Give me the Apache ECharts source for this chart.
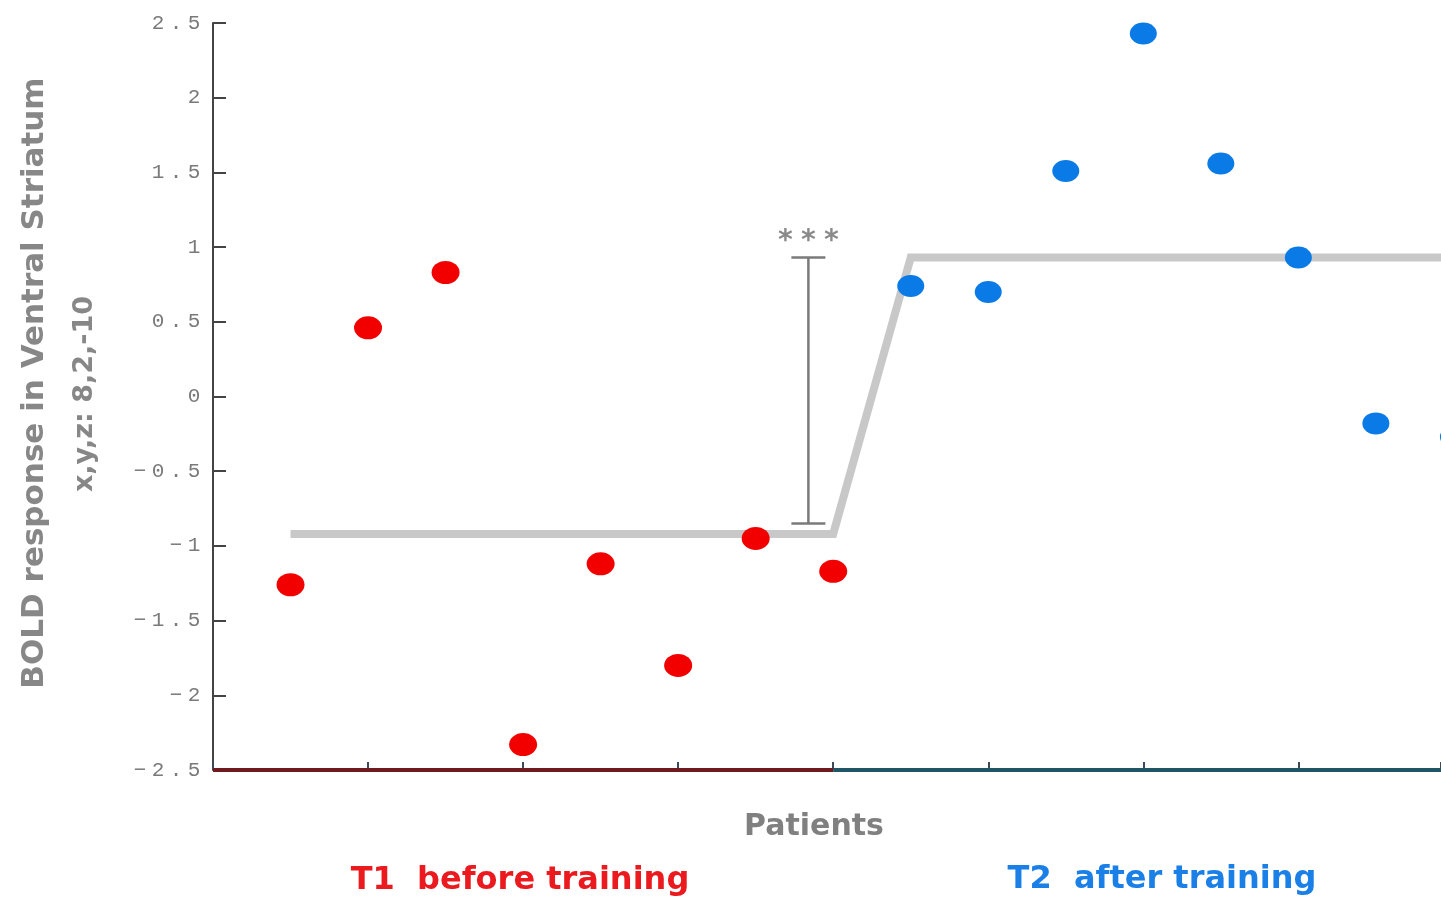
<!DOCTYPE html>
<html>
<head>
<meta charset="utf-8">
<script src="https://cdn.jsdelivr.net/npm/echarts@6/dist/echarts.min.js"></script>
<style>
  html, body { margin: 0; padding: 0; background: #fff; }
  #chart { width: 1441px; height: 900px; }
</style>
</head>
<body>
<div id="chart"></div>
<script>
// ---- data ----
var patientPositions = [0.5, 1, 1.5, 2, 2.5, 3, 3.5, 4, 4.5, 5, 5.5, 6, 6.5, 7, 7.5, 8];
var t1Values = [-1.26, 0.46, 0.83, -2.33, -1.12, -1.80, -0.95, -1.17];
var t2Values = [0.74, 0.70, 1.51, 2.43, 1.56, 0.93, -0.18, -0.27];
var meanLineX = [0.5, 4, 4.5, 8];
var meanLineY = [-0.92, -0.92, 0.93, 0.93];
var bracketX = [3.84];
var bracketLow = [-0.85];
var bracketHigh = [0.93];
var significanceLabel = '***';
var yTickValues = [-2.5, -2, -1.5, -1, -0.5, 0, 0.5, 1, 1.5, 2, 2.5];
var groupLabels = ['T1  before training', 'T2  after training'];
var groupSplit = [0, 4, 8];
var xVisibleMax = 7.92; // the reference figure is cropped just before x = 8

// ---- build ----
var t1Data = t1Values.map(function (v, i) { return [patientPositions[i], v]; });
var t2Data = t2Values.map(function (v, i) { return [patientPositions[i + t1Values.length], v]; });
var meanData = meanLineX.map(function (x, i) { return [x, meanLineY[i]]; });
var yMin = yTickValues[0], yMax = yTickValues[yTickValues.length - 1];

function fmtTick(v) {
  var s = (v < 0 ? '\u2212' : '') + String(Math.abs(v));
  return s.split('').map(function (c) { return '{c|' + c + '}'; }).join('');
}

var chart = echarts.init(document.getElementById('chart'));
var option = {
  animation: false,
  backgroundColor: '#ffffff',
  grid: { left: 213, top: 23, bottom: 130, right: 0, containLabel: false },
  xAxis: {
    type: 'value', min: groupSplit[0], max: xVisibleMax, interval: 1,
    axisLine: { show: false, onZero: false },
    axisTick: { show: true, inside: true, length: 8, lineStyle: { color: '#3a4a5a', width: 2 } },
    axisLabel: { show: false },
    splitLine: { show: false }
  },
  yAxis: {
    type: 'value', min: yMin, max: yMax, interval: 0.5,
    axisLine: { show: true, lineStyle: { color: '#444', width: 2 } },
    axisTick: { show: true, inside: true, length: 13, lineStyle: { color: '#444', width: 2 } },
    axisLabel: {
      margin: 10,
      formatter: fmtTick,
      rich: { c: { width: 18, align: 'center', fontFamily: 'Liberation Mono', fontSize: 21, color: '#7a7a7a' } }
    },
    splitLine: { show: false }
  },
  series: [
    {
      type: 'line', name: 'mean', data: meanData, symbol: 'none', z: 1,
      lineStyle: { color: '#c8c8c8', width: 8, cap: 'butt', join: 'miter' }
    },
    {
      type: 'line', name: 'axisT1', data: [[groupSplit[0], yMin], [groupSplit[1], yMin]], symbol: 'none', clip: false, z: 3,
      lineStyle: { color: '#6e1a1f', width: 4 }
    },
    {
      type: 'line', name: 'axisT2', data: [[groupSplit[1], yMin], [groupSplit[2], yMin]], symbol: 'none', clip: false, z: 3,
      lineStyle: { color: '#1f5566', width: 4 }
    },
    {
      type: 'custom', name: 'significance', z: 4,
      data: [[bracketX[0], bracketLow[0], bracketHigh[0]]],
      renderItem: function (params, api) {
        var p1 = api.coord([api.value(0), api.value(1)]);
        var p2 = api.coord([api.value(0), api.value(2)]);
        var hw = 17;
        var st = { stroke: '#7a7a7a', lineWidth: 2.5 };
        var rich = significanceLabel.split('').map(function (c) { return '{s|' + c + '}'; }).join('');
        return {
          type: 'group',
          children: [
            { type: 'line', shape: { x1: p1[0], y1: p1[1], x2: p2[0], y2: p2[1] }, style: st },
            { type: 'line', shape: { x1: p1[0] - hw, y1: p1[1], x2: p1[0] + hw, y2: p1[1] }, style: st },
            { type: 'line', shape: { x1: p2[0] - hw, y1: p2[1], x2: p2[0] + hw, y2: p2[1] }, style: st },
            {
              type: 'text', x: p2[0], y: p2[1] - 16,
              style: {
                text: rich, align: 'center', verticalAlign: 'middle', fill: '#7a7a7a',
                rich: { s: { width: 23, align: 'center', fontFamily: 'DejaVu Sans Mono', fontSize: 28, fontWeight: 'bold', fill: '#8a8a8a' } }
              }
            }
          ]
        };
      }
    },
    {
      type: 'scatter', name: 'T1', data: t1Data, symbol: 'circle', symbolSize: [28, 23], z: 5,
      itemStyle: { color: '#f20000', opacity: 1 }
    },
    {
      type: 'scatter', name: 'T2', data: t2Data, symbol: 'circle', symbolSize: [27, 22], z: 5, clip: false,
      itemStyle: { color: '#0a7ae6', opacity: 1 }
    }
  ],
  graphic: [
    {
      type: 'text', x: 35, y: 383, rotation: Math.PI / 2,
      style: { text: 'BOLD response in Ventral Striatum', font: 'bold 31px "DejaVu Sans"', fill: '#878787', align: 'center', verticalAlign: 'middle' }
    },
    {
      type: 'text', x: 85, y: 394, rotation: Math.PI / 2,
      style: { text: 'x,y,z: 8,2,-10', font: 'bold 27px "DejaVu Sans"', fill: '#878787', align: 'center', verticalAlign: 'middle' }
    },
    {
      type: 'text', x: 814, y: 827,
      style: { text: 'Patients', font: 'bold 30px "DejaVu Sans"', fill: '#808080', align: 'center', verticalAlign: 'middle' }
    },
    {
      type: 'text', x: 520, y: 881,
      style: { text: groupLabels[0], font: 'bold 32px "DejaVu Sans"', fill: '#ea1a1f', align: 'center', verticalAlign: 'middle' }
    },
    {
      type: 'text', x: 1162, y: 880,
      style: { text: groupLabels[1], font: 'bold 32px "DejaVu Sans"', fill: '#1a7fe6', align: 'center', verticalAlign: 'middle' }
    }
  ]
};
chart.setOption(option);
</script>
</body>
</html>
